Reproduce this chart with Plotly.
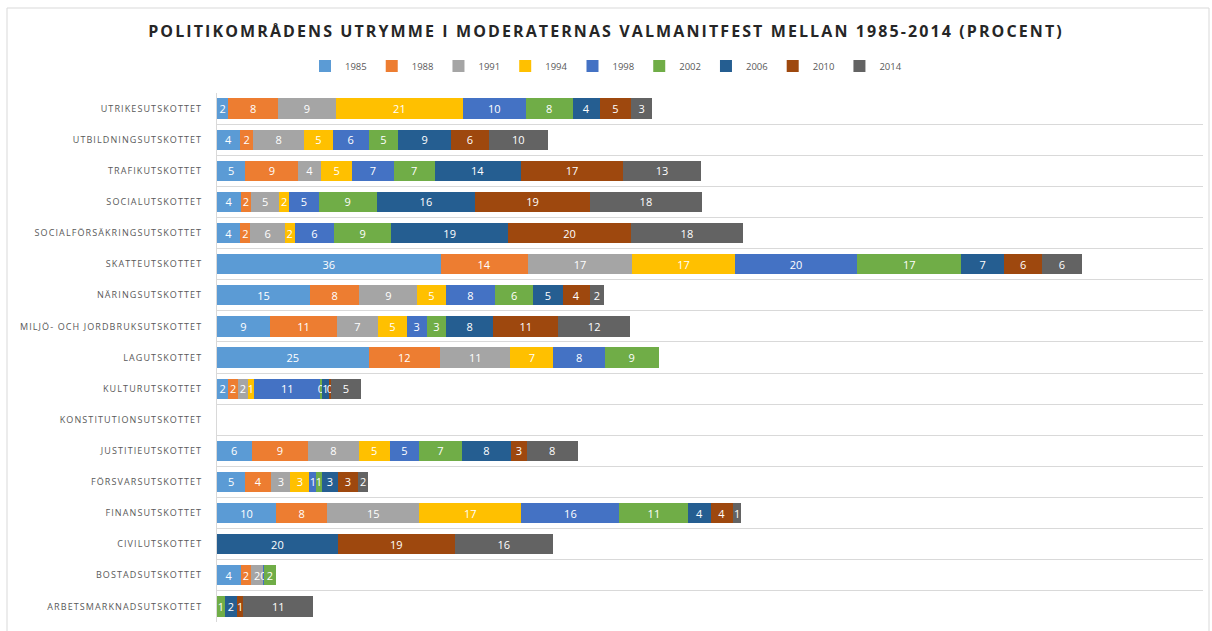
import plotly.graph_objects as go

categories = [
    "ARBETSMARKNADSUTSKOTTET", "BOSTADSUTSKOTTET", "CIVILUTSKOTTET", "FINANSUTSKOTTET",
    "FÖRSVARSUTSKOTTET", "JUSTITIEUTSKOTTET", "KONSTITUTIONSUTSKOTTET", "KULTURUTSKOTTET",
    "LAGUTSKOTTET", "MILJÖ- OCH JORDBRUKSUTSKOTTET", "NÄRINGSUTSKOTTET", "SKATTEUTSKOTTET",
    "SOCIALFÖRSÄKRINGSUTSKOTTET", "SOCIALUTSKOTTET", "TRAFIKUTSKOTTET",
    "UTBILDNINGSUTSKOTTET", "UTRIKESUTSKOTTET",
]

years = ["1985", "1988", "1991", "1994", "1998", "2002", "2006", "2010", "2014"]

# values per year, in category order above (None = no bar)
v1985 = [None, 3.9, None, 9.6, 4.6, 5.6, None, 1.8, 24.6, 8.6, 15.1, 36.3, 3.8, 3.9, 4.6, 3.7, 1.8]
v1988 = [None, 1.6, None, 8.3, 4.2, 9.2, None, 1.6, 11.6, 10.9, 8.0, 14.1, 1.6, 1.6, 8.6, 2.2, 8.1]
v1991 = [None, 2.0, None, 14.9, 3.1, 8.2, None, 1.6, 11.4, 6.6, 9.4, 17.0, 5.6, 4.6, 3.7, 8.2, 9.4]
v1994 = [None, None, None, 16.6, 3.1, 5.0, None, 1.0, 7.0, 4.7, 4.6, 16.6, 1.6, 1.6, 5.0, 4.7, 20.6]
v1998 = [0.05, 0.1, None, 15.9, 1.1, 4.8, None, 10.8, 8.3, 3.2, 8.0, 19.9, 6.4, 4.8, 6.8, 5.8, 10.2]
v2002 = [1.2, 2.0, None, 11.2, 0.9, 6.9, None, 0.2, 8.8, 3.2, 6.2, 16.9, 9.3, 9.4, 6.6, 4.8, 7.6]
v2006 = [2.0, None, 19.6, 3.6, 2.6, 8.0, None, 1.2, None, 7.6, 4.8, 6.9, 18.9, 16.0, 14.0, 8.6, 4.4]
v2010 = [1.0, None, 19.0, 3.6, 3.3, 2.6, None, 0.3, None, 10.6, 4.4, 6.2, 20.0, 18.6, 16.6, 6.1, 5.1]
v2014 = [11.4, None, 15.9, 1.4, 1.6, 8.2, None, 4.8, None, 11.6, 2.3, 6.4, 18.1, 18.2, 12.6, 9.6, 3.4]

series = [v1985, v1988, v1991, v1994, v1998, v2002, v2006, v2010, v2014]
colors = ["#5B9BD5", "#ED7D31", "#A5A5A5", "#FFC000", "#4472C4",
          "#70AD47", "#255E91", "#9E480E", "#636363"]

fig = go.Figure()
for name, vals, col in zip(years, series, colors):
    fig.add_trace(go.Bar(
        y=categories, x=vals, name=name, orientation="h",
        marker=dict(color=col, line=dict(width=0)),
        texttemplate="%{x:.0f}", textposition="inside", textangle=0,
        insidetextanchor="middle",
        textfont=dict(color="white", size=11, family="Open Sans"),
        cliponaxis=False,
        hoverinfo="x+y+name",
    ))

W, H = 1212, 631
L, R, T, B = 217, 9, 93, 9
pw, ph = W - L - R, H - T - B

ticktext = ['<span style="letter-spacing:1.1px">%s</span>' % c for c in categories]

fig.update_layout(
    width=W, height=H,
    barmode="stack", bargap=0.35,
    margin=dict(l=L, r=R, t=T, b=B, autoexpand=False),
    paper_bgcolor="white", plot_bgcolor="white",
    uniformtext=dict(mode="show", minsize=11),
    title=dict(
        text='<span style="letter-spacing:2.1px"><b>POLITIKOMRÅDENS UTRYMME I MODERATERNAS VALMANITFEST MELLAN 1985-2014 (PROCENT)</b></span>',
        x=0.5, xref="container", xanchor="center",
        y=1 - 31 / H, yref="container", yanchor="middle",
        font=dict(family="Open Sans", size=16, color="#262626"),
    ),
    legend=dict(
        orientation="h", xref="container", yref="container",
        x=0.5, xanchor="center", y=1 - 66 / H, yanchor="middle",
        font=dict(family="Open Sans", size=9.5, color="#595959"),
        itemwidth=30, traceorder="normal",
    ),
    xaxis=dict(range=[0, 160], showticklabels=False, showgrid=False,
               zeroline=False, showline=False, fixedrange=True, automargin=False),
    yaxis=dict(
        type="category", tickson="boundaries", ticks="",
        tickvals=categories, ticktext=ticktext,
        showgrid=True, gridcolor="#d9d9d9", gridwidth=1,
        showline=True, linecolor="#d9d9d9", linewidth=1,
        tickfont=dict(family="Open Sans", size=9, color="#595959"),
        ticklabelstandoff=12, automargin=False,
    ),
    shapes=[
        dict(type="rect", xref="paper", yref="paper",
             x0=(7 - L) / pw, x1=(W - 3 - L) / pw,
             y0=-0.05, y1=1 + (T - 8) / ph,
             line=dict(color="#d9d9d9", width=1), layer="below"),
    ],
)

fig.write_html("out.html",
               config={"displayModeBar": False},
               post_script="document.body.style.margin='0';document.body.style.padding='0';")
